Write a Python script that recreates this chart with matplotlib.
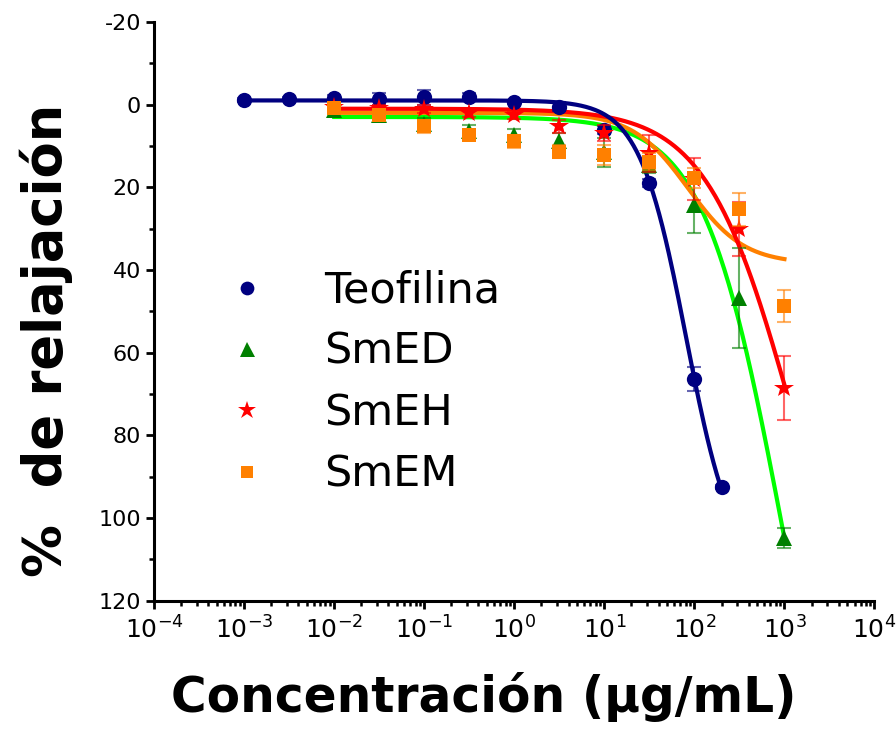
import matplotlib
matplotlib.use("Agg")
import matplotlib.pyplot as plt
import numpy as np
from matplotlib.ticker import LogLocator, MultipleLocator

plt.rcParams["axes.unicode_minus"] = False

# concentrations (ug/mL), half-decade steps
x_teo = [1e-3, 3.16e-3, 1e-2, 3.16e-2, 1e-1, 3.16e-1, 1, 3.16, 10, 31.6, 100, 200]
x_ext = [1e-2, 3.16e-2, 1e-1, 3.16e-1, 1, 3.16, 10, 31.6, 100, 316, 1000]

# % relajacion
teo = [-1.1, -1.3, -1.6, -1.3, -1.8, -1.9, -0.7, 0.5, 6.1, 18.9, 66.4, 92.6]
teo_err = [0.5, 0.5, 0.8, 1.5, 1.8, 1.0, 0.5, 1.0, 1.0, 1.0, 3.0, 0.5]
smed = [1.3, 2.5, 4.8, 6.5, 7.3, 8.8, 11.5, 14.5, 24.2, 46.8, 104.8]
smed_err = [0.5, 1.0, 1.5, 1.5, 1.5, 2.0, 3.5, 2.0, 6.8, 12.0, 2.5]
smeh = [0.5, 0.9, 1.0, 2.1, 2.5, 5.3, 6.9, 11.8, 18.0, 30.1, 68.6]
smeh_err = [0.5, 0.8, 1.0, 1.0, 1.0, 1.5, 2.0, 4.5, 5.0, 6.5, 7.8]
smem = [0.9, 2.5, 5.3, 7.3, 8.9, 11.4, 12.2, 13.8, 17.8, 25.3, 48.7]
smem_err = [0.8, 1.0, 1.5, 1.0, 1.5, 1.5, 2.4, 2.0, 2.5, 4.0, 3.8]

# dose-response fit parameters (A1, A2, logEC50, hill) estimated from the drawn curves
fit_teo = (-1.0, 114.0, 1.91, 1.67)
fit_smed = (3.0, 200.0, 2.97, 1.0)
fit_smeh = (1.0, 150.0, 3.1, 0.9)
fit_smem = (2.0, 38.5, 1.93, 1.4)


def dose_resp(x, a1, a2, logx0, p):
    return a1 + (a2 - a1) / (1 + 10 ** ((logx0 - np.log10(x)) * p))


fig = plt.figure(figsize=(8.96, 7.29), dpi=100)
ax = fig.add_axes([0.172, 0.176, 0.804, 0.794])

xf_teo = np.logspace(np.log10(x_teo[0]), np.log10(x_teo[-1]), 300)
xf_ext = np.logspace(np.log10(x_ext[0]), np.log10(x_ext[-1]), 300)

ax.plot(xf_ext, dose_resp(xf_ext, *fit_smed), color="#00ff00", lw=3, zorder=2)
ax.plot(xf_ext, dose_resp(xf_ext, *fit_smem), color="#ff8000", lw=3, zorder=2.1)
ax.plot(xf_ext, dose_resp(xf_ext, *fit_smeh), color="#ff0000", lw=3, zorder=2.2)
ax.plot(xf_teo, dose_resp(xf_teo, *fit_teo), color="#000080", lw=3, zorder=2.3)

series = [
    (x_teo, teo, teo_err, "Teofilina", "o", "#000080", 11),
    (x_ext, smed, smed_err, "SmED", "^", "#008000", 12),
    (x_ext, smeh, smeh_err, "SmEH", "*", "#ff0000", 15),
    (x_ext, smem, smem_err, "SmEM", "s", "#ff8000", 10),
]
handles = []
for i, (xs, ys, es, lab, mk, col, ms) in enumerate(series):
    ax.errorbar(xs, ys, yerr=es, fmt="none", ecolor=col, elinewidth=1.5,
                capsize=5, capthick=1.5, alpha=0.6, zorder=3 + i)
    h, = ax.plot(xs, ys, linestyle="none", marker=mk, color=col,
                 markersize=ms, markeredgewidth=0, zorder=3.5 + i, label=lab)
    handles.append(h)

ax.set_xscale("log")
ax.set_xlim(1e-4, 1e4)
ax.set_ylim(120, -20)
ax.xaxis.set_major_locator(LogLocator(base=10, numticks=20))
ax.xaxis.set_minor_locator(LogLocator(base=10, subs=np.arange(2, 10), numticks=20))
ax.yaxis.set_major_locator(MultipleLocator(20))
ax.yaxis.set_minor_locator(MultipleLocator(10))

for s in ["top", "right"]:
    ax.spines[s].set_visible(False)
for s in ["left", "bottom"]:
    ax.spines[s].set_linewidth(2.2)

ax.tick_params(which="major", direction="out", length=6, width=2, labelsize=16)
ax.tick_params(axis="x", which="major", labelsize=18, pad=5)
ax.tick_params(which="minor", direction="out", length=3.5, width=1.8)

ax.set_xlabel("Concentración (μg/mL)", fontsize=35, fontweight="bold")
ax.xaxis.set_label_coords(0.457, -0.124)
ax.set_ylabel("%  de relajación", fontsize=38, fontweight="bold")
ax.yaxis.set_label_coords(-0.113, 0.45)

leg = ax.legend(handles=handles, loc="upper left", bbox_to_anchor=(0.039, 0.639),
                frameon=False, fontsize=31, handletextpad=1.2, labelspacing=0.45,
                handlelength=1.2, markerscale=0.9)

fig.savefig("out.png", dpi=100)
